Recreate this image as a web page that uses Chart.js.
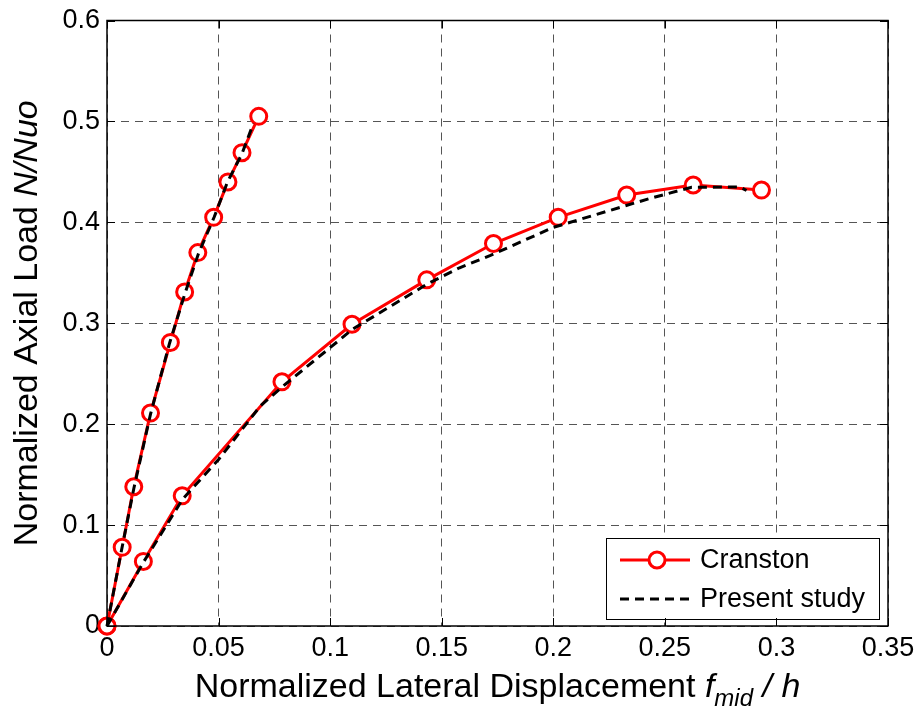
<!DOCTYPE html>
<html>
<head>
<meta charset="utf-8">
<script src="https://cdn.jsdelivr.net/npm/chart.js@4.4.1/dist/chart.umd.min.js"></script>
<style>
    html, body { margin: 0; padding: 0; background: #fff; }
</style>
</head>
<body>
<canvas id="myChart" width="921" height="713"></canvas>
<script>
// Cranston tests: slender column (steep curve) and stocky column (flat curve)
const cranstonX1 = [0, 0.0068, 0.012, 0.0195, 0.0284, 0.0348, 0.0407, 0.0478, 0.0542, 0.0605, 0.068];
const cranstonY1 = [0, 0.078, 0.138, 0.211, 0.281, 0.331, 0.370, 0.405, 0.440, 0.469, 0.505];
const cranstonX2 = [0, 0.0163, 0.0337, 0.0784, 0.1098, 0.1433, 0.1732, 0.2022, 0.2329, 0.2627, 0.2933];
const cranstonY2 = [0, 0.064, 0.129, 0.242, 0.299, 0.343, 0.379, 0.405, 0.427, 0.437, 0.432];

// present model, same two columns
const studyX1 = [0, 0.0065, 0.012, 0.0195, 0.028, 0.035, 0.041, 0.048, 0.054, 0.0605, 0.0656];
const studyY1 = [0, 0.075, 0.136, 0.210, 0.280, 0.330, 0.369, 0.405, 0.440, 0.468, 0.498];
const studyX2 = [0, 0.016, 0.034, 0.05, 0.0687, 0.078, 0.11, 0.1433, 0.158, 0.1716, 0.2, 0.2432, 0.262, 0.2836, 0.2866];
const studyY2 = [0, 0.062, 0.126, 0.165, 0.218, 0.236, 0.294, 0.3386, 0.355, 0.367, 0.395, 0.4236, 0.4348, 0.435, 0.4315];

const xMax = 0.35, xStep = 0.05;
const yMax = 0.6, yStep = 0.1;

const FONT = '"Liberation Sans", Arial, Helvetica, sans-serif';
const RED = '#ff0000';

function pts(xs, ys) {
    return xs.map((x, i) => ({x: x, y: ys[i]}));
}

function redSet(xs, ys) {
    return {
        label: 'Cranston', data: pts(xs, ys), order: 1,
        borderColor: RED, borderWidth: 3, showLine: true,
        pointRadius: 8, pointBorderWidth: 3, pointBackgroundColor: '#fff',
        pointBorderColor: RED, clip: false
    };
}

function dashSet(xs, ys) {
    return {
        label: 'Present study', data: pts(xs, ys), order: 0,
        borderColor: '#000', borderWidth: 3, borderDash: [9, 6], showLine: true,
        pointRadius: 0, clip: false
    };
}

// draws a run of [text, font, dy] pieces starting at x
function drawRuns(ctx, runs, x, y) {
    runs.forEach(r => {
        ctx.font = r[1];
        ctx.fillText(r[0], x, y + (r[2] || 0));
        x += ctx.measureText(r[0]).width;
    });
}
function runsWidth(ctx, runs) {
    let w = 0;
    runs.forEach(r => { ctx.font = r[1]; w += ctx.measureText(r[0]).width; });
    return w;
}

const frame = {
    id: 'frame',
    afterDraw(chart) {
        const ctx = chart.ctx, a = chart.chartArea;
        const sx = chart.scales.x, sy = chart.scales.y;
        ctx.save();

        // legend box, lower right
        const lw = 273, lh = 81;
        const lx = a.right - 9 - lw, ly = a.bottom - 7 - lh;
        ctx.fillStyle = '#fff';
        ctx.fillRect(lx, ly, lw, lh);
        ctx.strokeStyle = '#000';
        ctx.lineWidth = 1;
        ctx.strokeRect(lx + 0.5, ly + 0.5, lw, lh);

        const r1 = ly + 22, r2 = ly + 61;
        ctx.lineWidth = 3;
        ctx.strokeStyle = RED;
        ctx.beginPath(); ctx.moveTo(lx + 14, r1); ctx.lineTo(lx + 84, r1); ctx.stroke();
        ctx.fillStyle = '#fff';
        ctx.beginPath(); ctx.arc(lx + 51, r1, 8, 0, Math.PI * 2); ctx.fill(); ctx.stroke();
        ctx.strokeStyle = '#000';
        ctx.setLineDash([9, 6]);
        ctx.beginPath(); ctx.moveTo(lx + 14, r2); ctx.lineTo(lx + 84, r2); ctx.stroke();
        ctx.setLineDash([]);

        ctx.fillStyle = '#000';
        ctx.font = '27px ' + FONT;
        ctx.textBaseline = 'middle';
        ctx.textAlign = 'left';
        ctx.fillText('Cranston', lx + 94, r1 + 1);
        ctx.fillText('Present study', lx + 94, r2 + 1);

        // axes box with inward ticks
        ctx.lineWidth = 1.5;
        ctx.strokeStyle = '#000';
        ctx.strokeRect(a.left, a.top, a.right - a.left, a.bottom - a.top);
        const tk = 8;
        ctx.beginPath();
        sx.ticks.forEach(t => {
            const p = Math.round(sx.getPixelForValue(t.value)) + 0.5;
            ctx.moveTo(p, a.bottom); ctx.lineTo(p, a.bottom - tk);
            ctx.moveTo(p, a.top); ctx.lineTo(p, a.top + tk);
        });
        sy.ticks.forEach(t => {
            const p = Math.round(sy.getPixelForValue(t.value)) + 0.5;
            ctx.moveTo(a.left, p); ctx.lineTo(a.left + tk, p);
            ctx.moveTo(a.right, p); ctx.lineTo(a.right - tk, p);
        });
        ctx.lineWidth = 1;
        ctx.stroke();

        // axis titles
        const reg = '34px ' + FONT, ita = 'italic 34px ' + FONT, sub = 'italic 24px ' + FONT;
        ctx.textBaseline = 'alphabetic';
        const xr = [['Normalized Lateral Displacement ', reg], ['f', ita], ['mid', sub, 9], [' / h', ita]];
        const xw = runsWidth(ctx, xr);
        drawRuns(ctx, xr, (a.left + a.right) / 2 - xw / 2, 697);

        const yr = [['Normalized Axial Load ', reg], ['N/Nuo', ita]];
        const yw = runsWidth(ctx, yr);
        ctx.translate(37, (a.top + a.bottom) / 2);
        ctx.rotate(-Math.PI / 2);
        drawRuns(ctx, yr, -yw / 2, 0);

        ctx.restore();
    }
};

const fmt = v => String(+v.toFixed(2));

new Chart(document.getElementById('myChart').getContext('2d'), {
    type: 'scatter',
    data: {
        datasets: [
            redSet(cranstonX1, cranstonY1),
            redSet(cranstonX2, cranstonY2),
            dashSet(studyX1, studyY1),
            dashSet(studyX2, studyY2)
        ]
    },
    options: {
        responsive: false,
        animation: false,
        devicePixelRatio: 1,
        layout: { padding: { left: 0, right: 33, top: 19, bottom: 0 } },
        plugins: { legend: { display: false }, tooltip: { enabled: false } },
        scales: {
            x: {
                type: 'linear', min: 0, max: xMax,
                afterFit: s => { s.height = 87; },
                ticks: { stepSize: xStep, callback: fmt, color: '#000', padding: 6,
                         font: { family: FONT, size: 27 }, maxRotation: 0 },
                grid: { color: '#555', lineWidth: 1, drawTicks: false },
                border: { display: false, dash: [8, 6] }
            },
            y: {
                type: 'linear', min: 0, max: yMax,
                afterFit: s => { s.width = 107; },
                ticks: { stepSize: yStep, callback: fmt, color: '#000', padding: 7,
                         font: { family: FONT, size: 27, lineHeight: 1 } },
                grid: { color: '#555', lineWidth: 1, drawTicks: false },
                border: { display: false, dash: [8, 6] }
            }
        }
    },
    plugins: [frame]
});
</script>
</body>
</html>
